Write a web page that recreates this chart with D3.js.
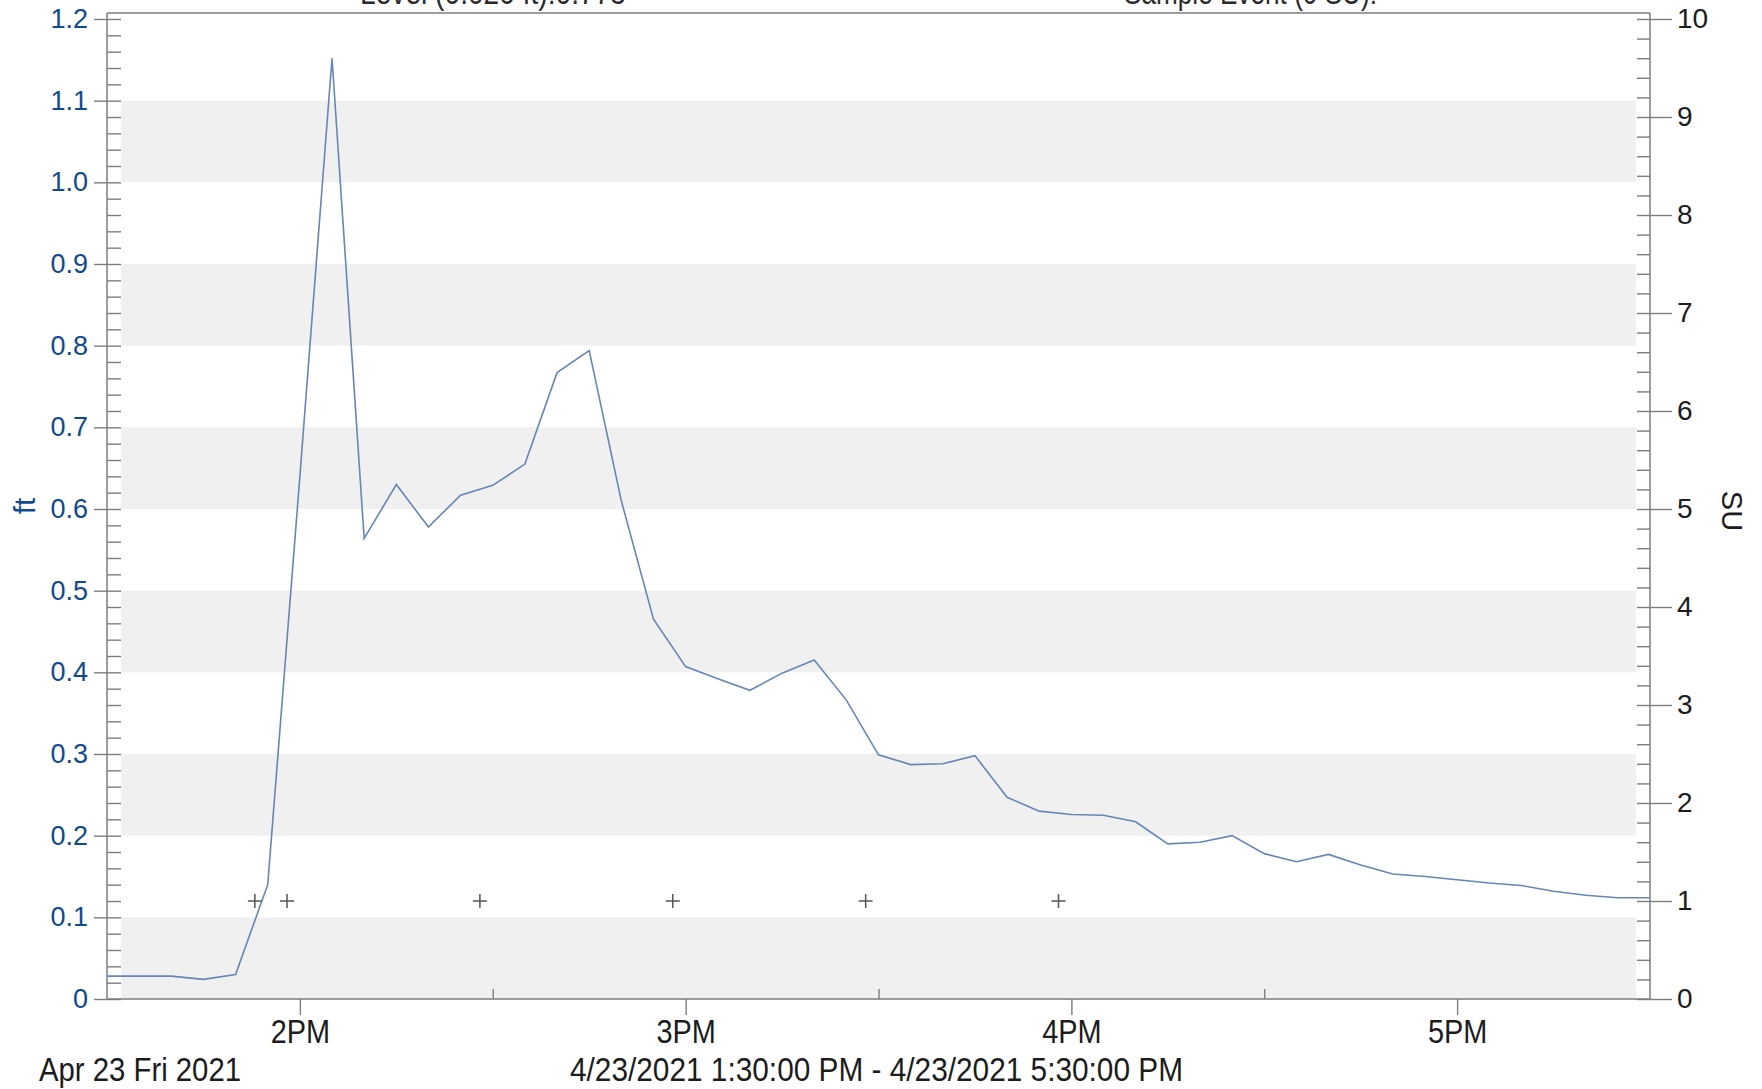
<!DOCTYPE html>
<html>
<head>
<meta charset="utf-8">
<script src="https://cdn.jsdelivr.net/npm/d3@7"></script>
<style>
body { margin: 0; background: #fff; }
.reg { font-family: "Liberation Sans", Arial, sans-serif; }
</style>
</head>
<body>
<script>
// level readings every 5 minutes, 4/23/2021
var times = ["13:30","13:35","13:40","13:45","13:50","13:55","14:00","14:05","14:10","14:15",
             "14:20","14:25","14:30","14:35","14:40","14:45","14:50","14:55","15:00","15:05",
             "15:10","15:15","15:20","15:25","15:30","15:35","15:40","15:45","15:50","15:55",
             "16:00","16:05","16:10","16:15","16:20","16:25","16:30","16:35","16:40","16:45",
             "16:50","16:55","17:00","17:05","17:10","17:15","17:20","17:25","17:30"];
var levelFt = [0.028,0.028,0.028,0.024,0.030,0.140,0.640,1.152,0.564,0.630,
               0.578,0.617,0.629,0.655,0.767,0.794,0.610,0.465,0.407,0.392,
               0.378,0.399,0.415,0.366,0.299,0.287,0.288,0.298,0.247,0.230,
               0.226,0.225,0.217,0.190,0.192,0.200,0.178,0.168,0.177,0.164,
               0.153,0.150,0.146,0.142,0.139,0.132,0.127,0.124,0.124];
// sample events (SU)
var sampleTimes = ["13:53","13:58","14:28","14:58","15:28","15:58"];
var sampleSU = [1,1,1,1,1,1];
// axis ticks
var ftTicks = [0,0.1,0.2,0.3,0.4,0.5,0.6,0.7,0.8,0.9,1.0,1.1,1.2];
var suTicks = [0,1,2,3,4,5,6,7,8,9,10];
var hourTicks = ["14:00","15:00","16:00","17:00"];
var hourLabels = ["2PM","3PM","4PM","5PM"];
var halfTicks = ["14:30","15:30","16:30"];

function init() {
    var w = 1762;
    var h = 1089;
    var parseT = d3.timeParse("%Y-%m-%d %H:%M");
    function t(s) { return parseT("2021-04-23 " + s); }

    var xScale = d3.scaleTime()
                    .domain([t("13:30"), t("17:30")])
                    .range([107, 1650]);
    var yLeft = d3.scaleLinear()
                    .domain([0, 1.2])
                    .range([999, 19]);
    var yRight = d3.scaleLinear()
                    .domain([0, 10])
                    .range([999, 19]);
    var x0 = xScale.range()[0], x1 = xScale.range()[1];
    var yBot = yLeft.range()[0], yTop = 13;
    var narrow = 0.85; // condensed look of the printout font

    var svg = d3.select("body")
                .append("svg")
                .attr("width", w)
                .attr("height", h);

    // shaded bands every other 0.1 ft
    svg.selectAll("rect.band")
        .data(ftTicks.filter(function(d, i) { return i % 2 == 0 && i < ftTicks.length - 1; }))
        .enter()
        .append("rect")
        .attr("class", "band")
        .attr("x", x0 + 14)
        .attr("width", x1 - x0 - 28)
        .attr("y", function(d) { return yLeft(d + 0.1); })
        .attr("height", function(d) { return yLeft(d) - yLeft(d + 0.1); })
        .attr("fill", "#f0f0f0");

    var axisColor = "#7d7d7d";
    function styleAxis(g) {
        g.select(".domain").remove();
        g.selectAll("line").attr("stroke", axisColor).attr("stroke-width", 1.4);
        g.attr("font-family", null).attr("font-size", null);
    }

    // left axis: major ticks outward with labels, all ticks inward
    svg.append("g")
        .attr("transform", "translate(" + x0 + ",0)")
        .call(d3.axisLeft(yLeft).tickValues(ftTicks).tickSize(13).tickPadding(6)
              .tickFormat(function(d) { return d == 0 ? "0" : d3.format(".1f")(d); }))
        .call(styleAxis)
        .selectAll("text")
        .attr("class", "reg")
        .style("font-size", "27px")
        .attr("fill", "#0f4a8f");
    svg.append("g")
        .attr("transform", "translate(" + x0 + ",0)")
        .call(d3.axisRight(yLeft).tickValues(d3.range(0, 1.2001, 0.02)).tickSize(14).tickFormat(""))
        .call(styleAxis);

    // right axis
    svg.append("g")
        .attr("transform", "translate(" + x1 + ",0)")
        .call(d3.axisRight(yRight).tickValues(suTicks).tickSize(22).tickPadding(5))
        .call(styleAxis)
        .selectAll("text")
        .attr("class", "reg")
        .style("font-size", "28px")
        .attr("fill", "#1c1c1c");
    svg.append("g")
        .attr("transform", "translate(" + x1 + ",0)")
        .call(d3.axisLeft(yRight).tickValues(d3.range(0, 10.001, 0.2)).tickSize(13).tickFormat(""))
        .call(styleAxis);

    // bottom axis
    svg.append("g")
        .attr("transform", "translate(0," + yBot + ")")
        .call(d3.axisBottom(xScale).tickValues(hourTicks.map(t)).tickSize(16).tickPadding(4)
              .tickFormat(function(d, i) { return hourLabels[i]; }))
        .call(styleAxis)
        .selectAll("text")
        .attr("class", "reg")
        .attr("transform", "scale(" + narrow + ",1)")
        .style("font-size", "34px")
        .attr("fill", "#1c1c1c");
    svg.append("g")
        .attr("transform", "translate(0," + yBot + ")")
        .call(d3.axisTop(xScale).tickValues(halfTicks.map(t)).tickSize(10).tickFormat(""))
        .call(styleAxis);

    // frame lines
    var frame = [[x0, yTop, x0, yBot], [x1, yTop, x1, yBot], [x0, yTop, x1, yTop], [x0, yBot, x1, yBot]];
    svg.selectAll("line.frame")
        .data(frame)
        .enter()
        .append("line")
        .attr("class", "frame")
        .attr("x1", function(d) { return d[0]; })
        .attr("y1", function(d) { return d[1]; })
        .attr("x2", function(d) { return d[2]; })
        .attr("y2", function(d) { return d[3]; })
        .attr("stroke", axisColor)
        .attr("stroke-width", 1.5);

    // level line
    var line = d3.line()
                .x(function(d, i) { return xScale(t(times[i])); })
                .y(function(d) { return yLeft(d); });
    svg.append("path")
        .datum(levelFt)
        .attr("d", line)
        .attr("fill", "none")
        .attr("stroke", "#6686b4")
        .attr("stroke-width", 1.6);

    // sample event markers
    svg.selectAll("path.mark")
        .data(sampleSU)
        .enter()
        .append("path")
        .attr("class", "mark")
        .attr("d", "M-7,0H7M0,-7V7")
        .attr("transform", function(d, i) {
            return "translate(" + xScale(t(sampleTimes[i])) + "," + yRight(d) + ")";
        })
        .attr("stroke", "#555")
        .attr("stroke-width", 1.5);

    // axis titles
    svg.append("text")
        .attr("class", "reg")
        .attr("transform", "translate(35,506) rotate(-90)")
        .attr("text-anchor", "middle")
        .style("font-size", "30px")
        .attr("fill", "#0f4a8f")
        .text("ft");
    svg.append("text")
        .attr("class", "reg")
        .attr("transform", "translate(1722,511) rotate(90)")
        .attr("text-anchor", "middle")
        .style("font-size", "29px")
        .attr("fill", "#1c1c1c")
        .text("SU");

    // header and footer texts, squeezed to the printout widths
    var notes = [
        {x: 360, y: 4, len: 266, s: "Level (0.020 ft):0.775"},
        {x: 1124, y: 4, len: 253, s: "Sample Event (0 SU):"},
        {x: 39, y: 1081, len: 202, s: "Apr 23 Fri 2021"},
        {x: 570, y: 1081, len: 613, s: "4/23/2021 1:30:00 PM - 4/23/2021 5:30:00 PM"}
    ];
    svg.selectAll("text.note")
        .data(notes)
        .enter()
        .append("text")
        .attr("class", "reg note")
        .attr("x", function(d) { return d.x; })
        .attr("y", function(d) { return d.y; })
        .attr("textLength", function(d) { return d.len; })
        .attr("lengthAdjust", "spacingAndGlyphs")
        .style("font-size", "34px")
        .attr("fill", function(d) { return d.y < 20 ? "#2a2a2a" : "#1c1c1c"; })
        .text(function(d) { return d.s; });
}
window.onload = init;
</script>
</body>
</html>
